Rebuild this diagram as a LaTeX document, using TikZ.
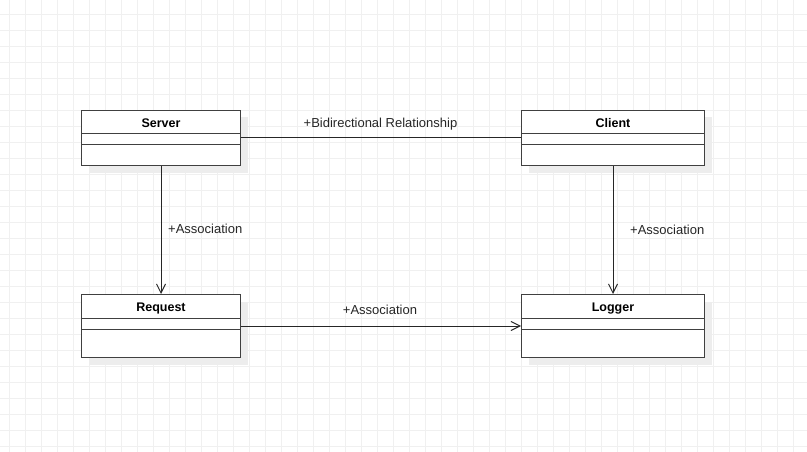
\documentclass[tikz,border=0pt]{standalone}
\usepackage{fontspec}
\setmainfont{Liberation Sans}
\usetikzlibrary{arrows.meta,shadows}
\begin{document}
\begin{tikzpicture}[x=1pt,y=-1pt,
  gridline/.style={draw=black!6,line width=0.7pt},
  classbox/.style={draw=black!75,line width=1pt,fill=white,rectangle,anchor=north west,inner sep=0pt,
    general shadow={fill=black!7,shadow xshift=7pt,shadow yshift=-7pt}},
  classtitle/.style={font=\fontsize{12.5}{15}\selectfont\bfseries,inner sep=0pt,anchor=base},
  divider/.style={draw=black!75,line width=1pt},
  assoc/.style={draw=black!85,line width=1pt,-{Straight Barb[length=9pt,width=9pt]}},
  plainlink/.style={draw=black!85,line width=1pt},
  lbl/.style={font=\fontsize{13}{15}\selectfont,inner sep=0pt,text=black!85,anchor=base}]
\useasboundingbox (0,0) rectangle (807,452);
\fill[white] (0,0) rectangle (807,452);
\foreach \i in {0,...,50} \draw[gridline] ({9.33+16*\i},0) -- ++(0,452);
\foreach \j in {0,...,27} \draw[gridline] (0,{14+16*\j}) -- ++(807,0);

% classes
\node[classbox,minimum width=159pt,minimum height=55pt] (server) at (81,110) {};
\node[classbox,minimum width=183pt,minimum height=55pt] (client) at (521,110) {};
\node[classbox,minimum width=159pt,minimum height=63pt] (request) at (81,294) {};
\node[classbox,minimum width=183pt,minimum height=63pt] (logger) at (521,294) {};

\foreach \n/\w in {server/159,client/183,request/159,logger/183}{
  \draw[divider] (\n.north west) ++(0,24) -- ++(\w,0);
  \draw[divider] (\n.north west) ++(0,35) -- ++(\w,0);
}

\node[classtitle] (server-t) at ([yshift=-17.5pt]server.north) {Server};
\node[classtitle] (client-t) at ([yshift=-17.5pt]client.north) {Client};
\node[classtitle] (request-t) at ([yshift=-17.5pt]request.north) {Request};
\node[classtitle] (logger-t) at ([yshift=-17.5pt]logger.north) {Logger};

% connectors
\draw[plainlink] (server.east) -- (client.west);
\draw[assoc] (server.south) -- (request.north);
\draw[assoc] (client.south) -- (logger.north);
\draw[assoc] (request.east) -- (logger.west);

% labels
\node[lbl] (l1) at (380.5,127.5) {+Bidirectional Relationship};
\node[lbl,anchor=base west] (l2) at (168,233.5) {+Association};
\node[lbl,anchor=base west] (l3) at (630,234.5) {+Association};
\node[lbl] (l4) at (380,314.5) {+Association};
\end{tikzpicture}
\end{document}
